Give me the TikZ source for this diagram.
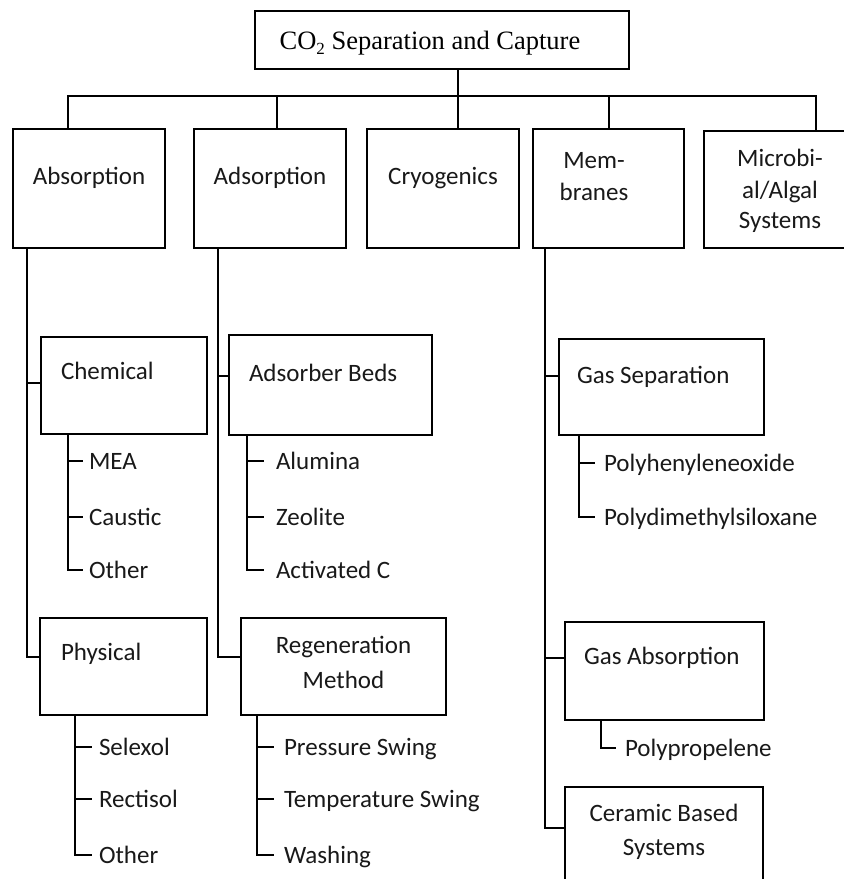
\documentclass[tikz,border=0pt]{standalone}
\usepackage{fontspec}
\setmainfont{Carlito}
\newfontfamily\titlefont{Liberation Serif}
\begin{document}
\begin{tikzpicture}[x=1pt,y=-1pt,
  bx/.style={draw=black,line width=2.3pt,inner sep=0pt,outer sep=0pt,fill=white},
  ln/.style={draw=black,line width=1.4pt,line cap=rect},
  lbl/.style={inner sep=0pt,outer sep=0pt,font=\fontsize{25}{30}\selectfont,text=black!90}]
\useasboundingbox (0,0) rectangle (844,879);
\clip (0,0) rectangle (844,879);
\fill[white] (0,0) rectangle (844,879);

% connectors of top level
\coordinate (jT) at (458,96);
\coordinate (jA) at (68,96);
\coordinate (jB) at (277,96);
\coordinate (jD) at (609,96);
\coordinate (jE) at (816,96);

% title
\node[bx,minimum width=374,minimum height=58] (title) at (442,40) {};
\node[inner sep=0pt,anchor=base,font=\titlefont\fontsize{26.5}{30}\selectfont] (titleT) at (430,49)
  {CO{\fontsize{17}{17}\selectfont\raisebox{-5pt}{2}} Separation and Capture};

% row boxes
\node[bx,minimum width=152,minimum height=119] (abs) at (89,188.5) {};
\node[bx,minimum width=152,minimum height=119] (ads) at (270,188.5) {};
\node[bx,minimum width=152,minimum height=119] (cryo) at (443,188.5) {};
\node[bx,minimum width=151,minimum height=119] (mem) at (608.5,188.5) {};
\node[bx,minimum width=152,minimum height=117] (mic) at (780,189.5) {};

\draw[ln] (title.south -| jT) -- (jT);
\draw[ln] (jA) -- (jE);
\draw[ln] (jA) -- (abs.north -| jA);
\draw[ln] (jB) -- (ads.north -| jB);
\draw[ln] (jT) -- (cryo.north -| jT);
\draw[ln] (jD) -- (mem.north -| jD);
\draw[ln] (jE) -- (mic.north -| jE);

\node[lbl,anchor=base] (absT) at (89,184) {Absorption};
\node[lbl,anchor=base] (adsT) at (270,184) {Adsorption};
\node[lbl,anchor=base] (cryoT) at (443,184) {Cryogenics};
\node[lbl,anchor=base] (memT1) at (594,168) {Mem-};
\node[lbl,anchor=base] (memT2) at (594,200) {branes};
\node[lbl,anchor=base] (micT1) at (780,166) {Microbi-};
\node[lbl,anchor=base] (micT2) at (780,198) {al/Algal};
\node[lbl,anchor=base] (micT3) at (780,228) {Systems};

% sub boxes
\node[bx,minimum width=166,minimum height=97] (chem) at (124,385.5) {};
\node[bx,minimum width=167,minimum height=97] (phys) at (123.5,666.5) {};
\node[bx,minimum width=203,minimum height=100] (adsb) at (330.5,385) {};
\node[bx,minimum width=205,minimum height=97] (regen) at (343.5,666.5) {};
\node[bx,minimum width=205,minimum height=96] (gsep) at (661.5,387) {};
\node[bx,minimum width=199,minimum height=98] (gabs) at (664.5,671) {};
\node[bx,minimum width=198,minimum height=116] (cer) at (664,845) {};

\node[lbl,anchor=base west] (chemT) at (61,379) {Chemical};
\node[lbl,anchor=base west] (physT) at (61,660) {Physical};
\node[lbl,anchor=base west] (adsbT) at (249,381) {Adsorber Beds};
\node[lbl,anchor=base] (regenT1) at (343.5,653) {Regeneration};
\node[lbl,anchor=base] (regenT2) at (343.5,688) {Method};
\node[lbl,anchor=base west] (gsepT) at (577,383) {Gas Separation};
\node[lbl,anchor=base west] (gabsT) at (584,664) {Gas Absorption};
\node[lbl,anchor=base] (cerT1) at (664,821) {Ceramic Based};
\node[lbl,anchor=base] (cerT2) at (664,855) {Systems};

% trunks from row boxes
\draw[ln] (abs.south -| 27,0) |- (phys.west |- 0,657);
\draw[ln] (27,383) -- (chem.west |- 0,383);
\draw[ln] (ads.south -| 218,0) |- (regen.west |- 0,657);
\draw[ln] (218,376) -- (adsb.west |- 0,376);
\draw[ln] (mem.south -| 545,0) |- (cer.west |- 0,828);
\draw[ln] (545,376) -- (gsep.west |- 0,376);
\draw[ln] (545,658) -- (gabs.west |- 0,658);

% Chemical children
\node[lbl,anchor=base west] (mea) at (89,469) {MEA};
\node[lbl,anchor=base west] (caus) at (89,525) {Caustic};
\node[lbl,anchor=base west] (oth1) at (89,578) {Other};
\draw[ln] (chem.south -| 68,0) |- (82,570);
\draw[ln] (68,461) -- (82,461);
\draw[ln] (68,517) -- (82,517);

% Adsorber children
\node[lbl,anchor=base west] (alu) at (276,469) {Alumina};
\node[lbl,anchor=base west] (zeo) at (276,525) {Zeolite};
\node[lbl,anchor=base west] (actc) at (276,578) {Activated C};
\draw[ln] (adsb.south -| 247,0) |- (263,570);
\draw[ln] (247,461) -- (263,461);
\draw[ln] (247,517) -- (263,517);

% Physical children
\node[lbl,anchor=base west] (sel) at (99,755) {Selexol};
\node[lbl,anchor=base west] (rec) at (99,807) {Rectisol};
\node[lbl,anchor=base west] (oth2) at (99,863) {Other};
\draw[ln] (phys.south -| 75,0) |- (91,855);
\draw[ln] (75,747) -- (91,747);
\draw[ln] (75,799) -- (91,799);

% Regeneration children
\node[lbl,anchor=base west] (psw) at (284,755) {Pressure Swing};
\node[lbl,anchor=base west] (tsw) at (284,807) {Temperature Swing};
\node[lbl,anchor=base west] (wash) at (284,863) {Washing};
\draw[ln] (regen.south -| 257,0) |- (273,855);
\draw[ln] (257,747) -- (273,747);
\draw[ln] (257,799) -- (273,799);

% Gas separation children
\node[lbl,anchor=base west] (ppo) at (604,471) {Polyhenyleneoxide};
\node[lbl,anchor=base west] (pdms) at (604,525) {Polydimethylsiloxane};
\draw[ln] (gsep.south -| 579,0) |- (594,517);
\draw[ln] (579,463) -- (594,463);

% Gas absorption child
\node[lbl,anchor=base west] (pp) at (625,756) {Polypropelene};
\draw[ln] (gabs.south -| 601,0) |- (615,748);
\end{tikzpicture}
\end{document}
